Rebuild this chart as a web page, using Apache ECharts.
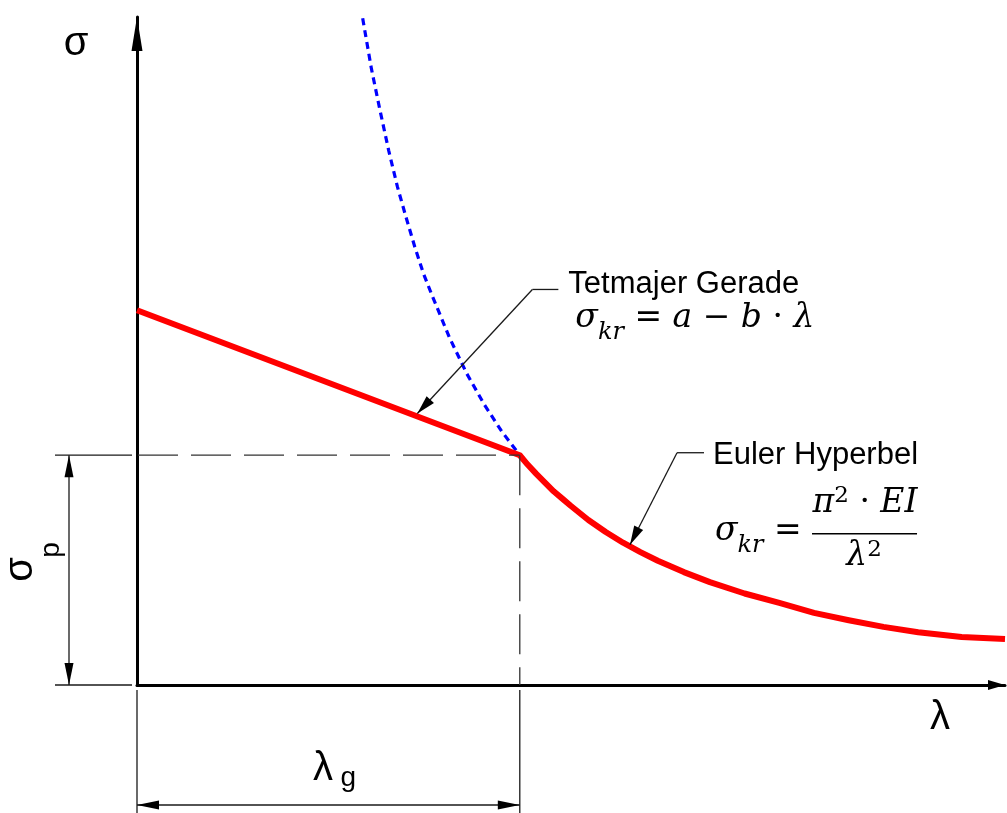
<!DOCTYPE html>
<html>
<head>
<meta charset="utf-8">
<script src="https://cdn.jsdelivr.net/npm/echarts@6/dist/echarts.min.js"></script>
<style>
  html, body { margin: 0; padding: 0; background: #fff; }
  #chart { width: 1007px; height: 813px; }
</style>
</head>
<body>
<div id="chart"></div>
<script>
// Tetmajer straight line (inelastic buckling range, 0 ≤ λ ≤ λg)
const tetmajerLambda = [0, 44.1];
const tetmajerSigma = [56.1, 34.4];

// Euler hyperbola, valid part (λ ≥ λg)
const eulerLambda = [44.1, 45, 46, 47, 48, 49, 50, 52, 54, 56, 58, 60, 63, 66, 70, 74, 78, 82, 86, 90, 95, 100];
const eulerSigma = [34.4, 33.0, 31.6, 30.3, 29.0, 27.9, 26.8, 24.7, 22.9, 21.3, 19.9, 18.6, 16.9, 15.4, 13.7, 12.3, 10.8, 9.7, 8.7, 7.9, 7.2, 6.9];

// Euler hyperbola continued below λg (not valid there)
const eulerExtLambda = [26.0, 27, 28, 29, 30, 31, 32, 33, 34, 36, 38, 40, 42, 44.1];
const eulerExtSigma = [99.8, 92.3, 86.0, 80.0, 74.6, 70.0, 65.6, 61.6, 58.3, 52.0, 46.6, 42.0, 38.0, 34.4];

// Limit slenderness and proportional limit
const lambdaG = 44.1;
const sigmaP = 34.4;

// Points on the curves where the callout arrows end
const tetmajerTip = [32.3, 40.2];
const eulerTip = [56.8, 20.7];

const zip = (xs, ys) => xs.map((x, i) => [x, ys[i]]);
const redCurve = zip(tetmajerLambda, tetmajerSigma).concat(zip(eulerLambda, eulerSigma).slice(1));
const blueCurve = zip(eulerExtLambda, eulerExtSigma);

const SANS = '"Liberation Sans", Arial, sans-serif';
const SERIF = '"DejaVu Serif", "Liberation Serif", serif';
const INK = '#1a1a1a';

function seg(x1, y1, x2, y2, extra) {
  return { type: 'line', shape: { x1, y1, x2, y2 },
    style: Object.assign({ stroke: INK, lineWidth: 1.3 }, extra || {}) };
}
function head(tx, ty, fx, fy, len, hw) {
  const dx = tx - fx, dy = ty - fy, d = Math.hypot(dx, dy);
  const ux = dx / d, uy = dy / d;
  const bx = tx - ux * len, by = ty - uy * len;
  return { type: 'polygon',
    shape: { points: [[tx, ty], [bx - uy * hw, by + ux * hw], [bx + uy * hw, by - ux * hw]] },
    style: { fill: '#000' } };
}
function txt(x, y, text, opts) {
  const o = opts || {};
  return { type: 'text', x, y, rotation: o.rotation || 0,
    style: { text, fill: '#000', align: o.align || 'left', verticalAlign: 'middle',
      fontFamily: o.family || SANS, fontSize: o.size || 31, fontStyle: o.style || 'normal',
      rich: o.rich } };
}

const mathRich = {
  m: { fontFamily: SERIF, fontStyle: 'italic', fontSize: 33, fill: '#000' },
  o: { fontFamily: SERIF, fontSize: 33, fill: '#000' },
  s: { fontFamily: SERIF, fontStyle: 'italic', fontSize: 24, fill: '#000', padding: [28, 0, 0, 0] },
  p: { fontFamily: SERIF, fontSize: 23, fill: '#000', padding: [0, 0, 14, 0] }
};

function renderNotes(params, api) {
  const O = api.coord([0, 0]);
  const G = api.coord([api.value(0), api.value(1)]);
  const T = api.coord(tetmajerTip);
  const U = api.coord(eulerTip);
  const kids = [];

  // dashed guides at σp and λg
  kids.push(seg(O[0] + 1, G[1], G[0], G[1], { lineDash: [40, 13], stroke: '#333' }));
  kids.push(seg(G[0], G[1], G[0], O[1], { lineDash: [40, 13], stroke: '#333' }));

  // σp dimension
  kids.push(seg(O[0] - 82, G[1], O[0] - 5, G[1]));
  kids.push(seg(O[0] - 82, O[1], O[0] - 5, O[1]));
  const dx = O[0] - 68;
  kids.push(seg(dx, G[1], dx, O[1]));
  kids.push(head(dx, G[1], dx, O[1], 22, 4.5));
  kids.push(head(dx, O[1], dx, G[1], 22, 4.5));
  kids.push(txt(21, 569.5, 'σ', { size: 40, rotation: Math.PI / 2, align: 'center' }));
  kids.push(txt(51, 550, 'p', { size: 28, rotation: Math.PI / 2, align: 'center' }));

  // λg dimension
  kids.push(seg(O[0], O[1] + 5, O[0], O[1] + 130));
  kids.push(seg(G[0], O[1] + 5, G[0], O[1] + 130));
  const dy = O[1] + 120;
  kids.push(seg(O[0], dy, G[0], dy));
  kids.push(head(O[0], dy, G[0], dy, 22, 4.5));
  kids.push(head(G[0], dy, O[0], dy, 22, 4.5));
  const mid = (O[0] + G[0]) / 2;
  kids.push(txt(mid - 5.5, O[1] + 84, 'λ', { size: 40, align: 'center' }));
  kids.push(txt(mid + 20, O[1] + 93, 'g', { size: 28, align: 'center' }));

  // axis names
  kids.push(txt(O[0] - 61, 44, 'σ', { size: 40, align: 'center' }));
  kids.push(txt(940, O[1] + 33, 'λ', { size: 40, align: 'center' }));

  // Tetmajer callout
  const tip1 = [T[0], T[1] - 3];
  const e1 = [tip1[0] + 115, tip1[1] - 124];
  kids.push(seg(tip1[0], tip1[1], e1[0], e1[1]));
  kids.push(seg(e1[0], e1[1], e1[0] + 26, e1[1]));
  kids.push(head(tip1[0], tip1[1], e1[0], e1[1], 19, 5));
  kids.push(txt(e1[0] + 36, e1[1] - 5.5, 'Tetmajer Gerade', { size: 31 }));
  kids.push(txt(e1[0] + 43, e1[1] + 29,
    '{m|σ}{s|kr}{o| = }{m|a}{o| − }{m|b}{o| · }{m|λ}', { rich: mathRich, family: SERIF, size: 33 }));

  // Euler callout
  const tip2 = [U[0], U[1] - 2];
  const e2 = [tip2[0] + 47, tip2[1] - 92];
  kids.push(seg(tip2[0], tip2[1], e2[0], e2[1]));
  kids.push(seg(e2[0], e2[1], e2[0] + 27, e2[1]));
  kids.push(head(tip2[0], tip2[1], e2[0], e2[1], 19, 5));
  kids.push(txt(e2[0] + 36, e2[1] + 3, 'Euler Hyperbel', { size: 31 }));
  kids.push(txt(e2[0] + 38, e2[1] + 79, '{m|σ}{s|kr}{o| =}', { rich: mathRich, family: SERIF, size: 33 }));
  kids.push(txt(e2[0] + 188, e2[1] + 50.5, '{m|π}{p|2}{o| · }{m|EI}', { rich: mathRich, family: SERIF, size: 33, align: 'center' }));
  kids.push(seg(e2[0] + 135, e2[1] + 81, e2[0] + 240, e2[1] + 81, { stroke: '#000', lineWidth: 1.6 }));
  kids.push(txt(e2[0] + 187, e2[1] + 104, '{m|λ}{p|2}', { rich: mathRich, family: SERIF, size: 33, align: 'center' }));

  return { type: 'group', children: kids };
}

const chart = echarts.init(document.getElementById('chart'), null, { renderer: 'canvas' });
chart.setOption({
  animation: false,
  backgroundColor: '#fff',
  grid: { left: 137, right: 2, top: 17, bottom: 128, outerBoundsMode: 'none' },
  xAxis: {
    type: 'value', min: 0, max: 100,
    axisLine: { show: true, onZero: false, symbol: ['none', 'triangle'], symbolSize: [10, 17], symbolOffset: [0, -8.5],
      lineStyle: { color: '#000', width: 3 } },
    axisTick: { show: false }, axisLabel: { show: false }, splitLine: { show: false }
  },
  yAxis: {
    type: 'value', min: 0, max: 100,
    axisLine: { show: true, onZero: false, symbol: ['none', 'triangle'], symbolSize: [11, 34], symbolOffset: [0, -17],
      lineStyle: { color: '#000', width: 3 } },
    axisTick: { show: false }, axisLabel: { show: false }, splitLine: { show: false }
  },
  series: [
    { name: 'Euler (ungültig)', type: 'line', data: blueCurve, symbol: 'none', silent: true, z: 3,
      lineStyle: { color: '#0000ff', width: 3.2, type: [7, 5] } },
    { name: 'σkr', type: 'line', data: redCurve, symbol: 'none', silent: true, z: 4,
      lineStyle: { color: '#ff0000', width: 6, join: 'round' } },
    { type: 'custom', data: [[lambdaG, sigmaP]], clip: false, silent: true, z: 5, renderItem: renderNotes }
  ]
});
</script>
</body>
</html>
